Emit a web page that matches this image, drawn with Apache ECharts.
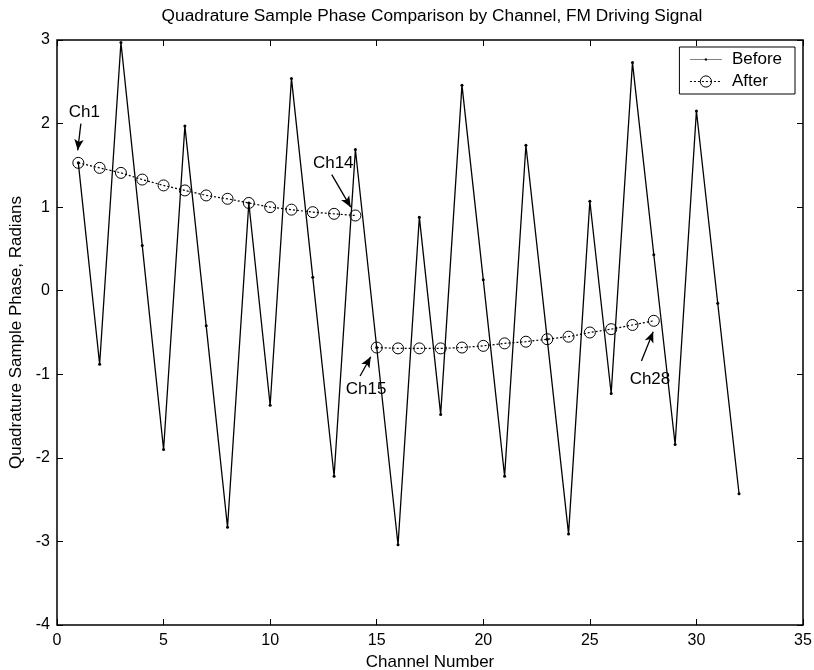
<!DOCTYPE html>
<html>
<head>
<meta charset="utf-8">
<script src="https://cdn.jsdelivr.net/npm/echarts@6/dist/echarts.min.js"></script>
<style>
html,body{margin:0;padding:0;background:#fff;}
#chart{width:814px;height:670px;}
</style>
</head>
<body>
<div id="chart"></div>
<script>
// ---- data ----
var channels = [1,2,3,4,5,6,7,8,9,10,11,12,13,14,15,16,17,18,19,20,21,22,23,24,25,26,27,28,29,30,31,32];
var beforeVals = [1.53,-0.88,2.97,0.54,-1.90,1.97,-0.42,-2.83,1.05,-1.37,2.54,0.16,-2.22,1.69,-0.68,-3.04,0.88,-1.48,2.46,0.13,-2.22,1.74,-0.58,-2.91,1.07,-1.23,2.73,0.43,-1.84,2.15,-0.15,-2.43];
var afterCh1 = [1,2,3,4,5,6,7,8,9,10,11,12,13,14];
var afterVals1 = [1.53,1.47,1.41,1.33,1.26,1.20,1.14,1.10,1.05,1.00,0.97,0.94,0.92,0.90];
var afterCh2 = [15,16,17,18,19,20,21,22,23,24,25,26,27,28];
var afterVals2 = [-0.68,-0.69,-0.69,-0.69,-0.68,-0.66,-0.63,-0.61,-0.58,-0.55,-0.50,-0.46,-0.41,-0.36];
var xTicks = {min:0, max:35, interval:5};
var yTicks = {min:-4, max:3, interval:1};
var annotations = [
  {text:'Ch1',  label:[1.28, 2.13],  from:[1.12, 2.00],  to:[0.97, 1.68]},
  {text:'Ch14', label:[12.96, 1.53], from:[12.89, 1.39], to:[13.78, 1.00]},
  {text:'Ch15', label:[14.5, -1.18], from:[14.22,-1.02], to:[14.72,-0.79]},
  {text:'Ch28', label:[27.82,-1.06], from:[27.42,-0.84], to:[27.97,-0.49]}
];
var titleText = 'Quadrature Sample Phase Comparison by Channel, FM Driving Signal';
var xName = 'Channel Number';
var yName = 'Quadrature Sample Phase, Radians';

// ---- build ----
var FONT = "'Liberation Sans', Arial, sans-serif";
function pairs(xs, ys){ return xs.map(function(x,i){ return [x, ys[i]]; }); }
var afterData = pairs(afterCh1, afterVals1).concat([[14.5, null]]).concat(pairs(afterCh2, afterVals2));

var chart = echarts.init(document.getElementById('chart'), null, {renderer:'canvas'});
function axisBase(extra){
  return Object.assign({
    type:'value', splitLine:{show:false},
    axisLine:{show:false, onZero:false},
    axisTick:{show:true, inside:true, length:6, lineStyle:{color:'#000', width:1}}
  }, extra);
}
chart.setOption({
  animation:false,
  backgroundColor:'#fff',
  textStyle:{fontFamily:FONT},
  title:{text:titleText, left:427, top:3, textAlign:'center',
    textStyle:{fontFamily:FONT, fontSize:17.3, fontWeight:'normal', color:'#000'}},
  grid:{left:57, right:11, top:40, bottom:45, outerBoundsMode:'none', containLabel:false,
    show:true, borderColor:'#000', borderWidth:1.5, backgroundColor:'#fff'},
  legend:{
    data:[
      {name:'Before', icon:'path://M0,9.6 H40 V10.4 H0 Z M18.6,8.6 H21.4 V11.4 H18.6 Z'},
      {name:'After', itemStyle:{borderWidth:1}, lineStyle:{width:1}}
    ],
    orient:'vertical', right:19, top:47,
    backgroundColor:'#fff', borderColor:'#000', borderWidth:1, padding:[4,13,4,10],
    itemWidth:32, itemHeight:14, itemGap:5,
    textStyle:{fontFamily:FONT, fontSize:17, color:'#000', padding:[0,0,0,5]}
  },
  xAxis:[
    axisBase({min:xTicks.min, max:xTicks.max, interval:xTicks.interval, position:'bottom',
      name:xName, nameLocation:'middle', nameGap:28,
      nameTextStyle:{fontFamily:FONT, fontSize:17, color:'#000'},
      axisLabel:{show:true, margin:8, fontFamily:FONT, fontSize:16, color:'#000'}}),
    axisBase({min:xTicks.min, max:xTicks.max, interval:xTicks.interval, position:'top',
      axisLabel:{show:false}})
  ],
  yAxis:[
    axisBase({min:yTicks.min, max:yTicks.max, interval:yTicks.interval, position:'left',
      name:yName, nameLocation:'middle', nameGap:27,
      nameTextStyle:{fontFamily:FONT, fontSize:17, color:'#000'},
      axisLabel:{show:true, margin:7, fontFamily:FONT, fontSize:16, color:'#000'}}),
    axisBase({min:yTicks.min, max:yTicks.max, interval:yTicks.interval, position:'right',
      axisLabel:{show:false}})
  ],
  series:[
    {
      name:'Before', type:'line', xAxisIndex:0, yAxisIndex:0,
      data:pairs(channels, beforeVals),
      symbol:'circle', symbolSize:3,
      itemStyle:{color:'#000'},
      lineStyle:{color:'#000', width:1.3}
    },
    {
      name:'After', type:'line', xAxisIndex:0, yAxisIndex:0,
      data:afterData, connectNulls:false,
      symbol:'circle', symbolSize:11, showAllSymbol:true,
      itemStyle:{color:'rgba(0,0,0,0)', borderColor:'#000', borderWidth:1},
      lineStyle:{color:'#000', width:1.2, type:[2,2]},
      markLine:{
        silent:true, animation:false,
        lineStyle:{color:'#000', width:1.3, type:'solid'},
        label:{show:false},
        symbol:['none','arrow'], symbolSize:[7,11],
        data:annotations.map(function(a){
          return [{coord:a.from}, {coord:a.to}];
        })
      },
      markPoint:{
        silent:true, animation:false,
        symbol:'circle', symbolSize:1, itemStyle:{color:'rgba(0,0,0,0)'},
        label:{show:true, position:'inside', color:'#000', fontFamily:FONT, fontSize:17,
          formatter:function(p){ return p.name; }},
        data:annotations.map(function(a){ return {name:a.text, coord:a.label}; })
      }
    }
  ]
});
</script>
</body>
</html>
